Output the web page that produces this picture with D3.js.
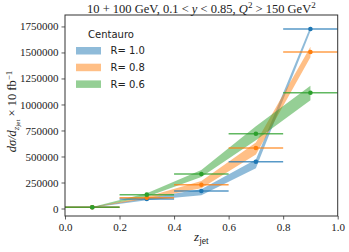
<!DOCTYPE html>
<html>
<head>
<meta charset="utf-8">
<script src="https://cdn.jsdelivr.net/npm/d3@7"></script>
<style>
  body { margin: 0; background: #fff; }
  .tick text { font-family: "Liberation Serif", serif; font-size: 11px; fill: #222; }
  .legend text { font-family: "DejaVu Sans", sans-serif; font-size: 10px; fill: #222; }
</style>
</head>
<body>
<div id="chart"></div>
<script>
// bin centres and half widths
var zCenters = [0.1, 0.3, 0.5, 0.7, 0.9];
var zHalf = 0.1;

var seriesNames = ["R= 1.0", "R= 0.8", "R= 0.6"];
var seriesColors = ["#1f77b4", "#ff7f0e", "#2ca02c"];

// central values
var valsR10 = [12000, 91000, 168000, 450000, 1726000];
var valsR08 = [12000, 104000, 229000, 582000, 1505000];
var valsR06 = [12000, 133000, 332000, 719000, 1113000];

// uncertainty bands (low / high)
var lowR10 = [10000, 80000, 128000, 388000, 1705000];
var highR10 = [14000, 100000, 185000, 470000, 1750000];
var lowR08 = [10000, 94000, 195000, 520000, 1455000];
var highR08 = [14000, 114000, 265000, 635000, 1555000];
var lowR06 = [10000, 113000, 303000, 655000, 1040000];
var highR06 = [14000, 147000, 370000, 790000, 1180000];

var yTicks = [0, 250000, 500000, 750000, 1000000, 1250000, 1500000, 1750000];
var xTicks = [0.0, 0.2, 0.4, 0.6, 0.8, 1.0];

var series = [
  {name: seriesNames[0], color: seriesColors[0], vals: valsR10, low: lowR10, high: highR10},
  {name: seriesNames[1], color: seriesColors[1], vals: valsR08, low: lowR08, high: highR08},
  {name: seriesNames[2], color: seriesColors[2], vals: valsR06, low: lowR06, high: highR06}
];

var W = 349, H = 252;
var margin = {top: 15, right: 11.3, bottom: 36, left: 65};
var width = W - margin.left - margin.right;
var height = H - margin.top - margin.bottom;

var svg = d3.select("#chart").append("svg")
  .attr("width", W)
  .attr("height", H);

var g = svg.append("g")
  .attr("transform", "translate(" + margin.left + "," + margin.top + ")");

var x = d3.scaleLinear().domain([0, 1]).range([0, width]);
var y = d3.scaleLinear().domain([-72000, 1860000]).range([height, 0]);

// bands
series.forEach(function(s) {
  var pts = zCenters.map(function(z, i) { return {z: z, lo: s.low[i], hi: s.high[i]}; });
  var area = d3.area()
    .x(function(d) { return x(d.z); })
    .y0(function(d) { return y(d.lo); })
    .y1(function(d) { return y(d.hi); });
  g.append("path")
    .attr("d", area(pts))
    .attr("fill", s.color)
    .attr("fill-opacity", 0.5)
    .attr("stroke", "none");
});

// error bars + markers
series.forEach(function(s) {
  var pts = zCenters.map(function(z, i) { return {z: z, v: s.vals[i]}; });
  g.selectAll(null).data(pts).enter().append("line")
    .attr("x1", function(d) { return x(d.z - zHalf); })
    .attr("x2", function(d) { return x(d.z + zHalf); })
    .attr("y1", function(d) { return y(d.v); })
    .attr("y2", function(d) { return y(d.v); })
    .attr("stroke", s.color)
    .attr("stroke-opacity", 0.75)
    .attr("stroke-width", 1.5);
  g.selectAll(null).data(pts).enter().append("circle")
    .attr("cx", function(d) { return x(d.z); })
    .attr("cy", function(d) { return y(d.v); })
    .attr("r", 2.3)
    .attr("fill", s.color);
});

// axes
var xAxis = g.append("g")
  .attr("transform", "translate(0," + height + ")")
  .call(d3.axisBottom(x).tickValues(xTicks).tickFormat(d3.format(".1f")).tickSize(3.5).tickPadding(4));
var yAxis = g.append("g")
  .call(d3.axisLeft(y).tickValues(yTicks).tickFormat(d3.format("d")).tickSize(3.5).tickPadding(3));
[xAxis, yAxis].forEach(function(a) {
  a.select(".domain").remove();
  a.selectAll(".tick line").attr("stroke", "#333").attr("stroke-width", 0.8);
});

// frame
g.append("rect")
  .attr("width", width)
  .attr("height", height)
  .attr("fill", "none")
  .attr("stroke", "#333")
  .attr("stroke-width", 1);

// title
var title = svg.append("text")
  .attr("x", margin.left + width / 2)
  .attr("y", 12.5)
  .attr("text-anchor", "middle")
  .style("font-family", "Liberation Serif, serif")
  .style("font-size", "12.5px")
  .attr("fill", "#222");
title.append("tspan").text("10 + 100 GeV, 0.1 < ");
title.append("tspan").style("font-style", "italic").text("y");
title.append("tspan").text(" < 0.85, ");
title.append("tspan").style("font-style", "italic").text("Q");
title.append("tspan").attr("dy", -4.5).style("font-size", "9px").text("2");
title.append("tspan").attr("dy", 4.5).text(" > 150 GeV");
title.append("tspan").attr("dy", -4.5).style("font-size", "9px").text("2");

// y label
var ylab = svg.append("text")
  .attr("transform", "translate(16," + (margin.top + height / 2 - 4) + ") rotate(-90)")
  .attr("text-anchor", "middle")
  .style("font-family", "Liberation Serif, serif")
  .style("font-size", "12.5px")
  .attr("fill", "#222");
ylab.append("tspan").style("font-style", "italic").text("dσ/d");
ylab.append("tspan").attr("dy", 2.5).style("font-size", "9px").style("font-style", "italic").text("z");
ylab.append("tspan").attr("dy", 1.5).style("font-size", "7px").text("jet");
ylab.append("tspan").attr("dy", -4).text(" × 10 fb");
ylab.append("tspan").attr("dy", -4.5).style("font-size", "9px").text("−1");

// x label
var xlab = svg.append("text")
  .attr("x", margin.left + width / 2)
  .attr("y", 241)
  .attr("text-anchor", "middle")
  .style("font-family", "Liberation Serif, serif")
  .style("font-size", "13px")
  .attr("fill", "#222");
xlab.append("tspan").style("font-style", "italic").text("z");
xlab.append("tspan").attr("dy", 3).style("font-size", "9.5px").text("jet");

// legend
var legend = svg.append("g").attr("class", "legend");
legend.append("text")
  .attr("x", 111)
  .attr("y", 37.5)
  .attr("text-anchor", "middle")
  .text("Centauro");
series.forEach(function(s, i) {
  var ly = 50.7 + i * 16.7;
  legend.append("rect")
    .attr("x", 76)
    .attr("y", ly - 3.7)
    .attr("width", 25)
    .attr("height", 7.5)
    .attr("fill", s.color)
    .attr("fill-opacity", 0.5);
  legend.append("text")
    .attr("x", 110.5)
    .attr("y", ly + 3.6)
    .text(s.name);
});
</script>
</body>
</html>
